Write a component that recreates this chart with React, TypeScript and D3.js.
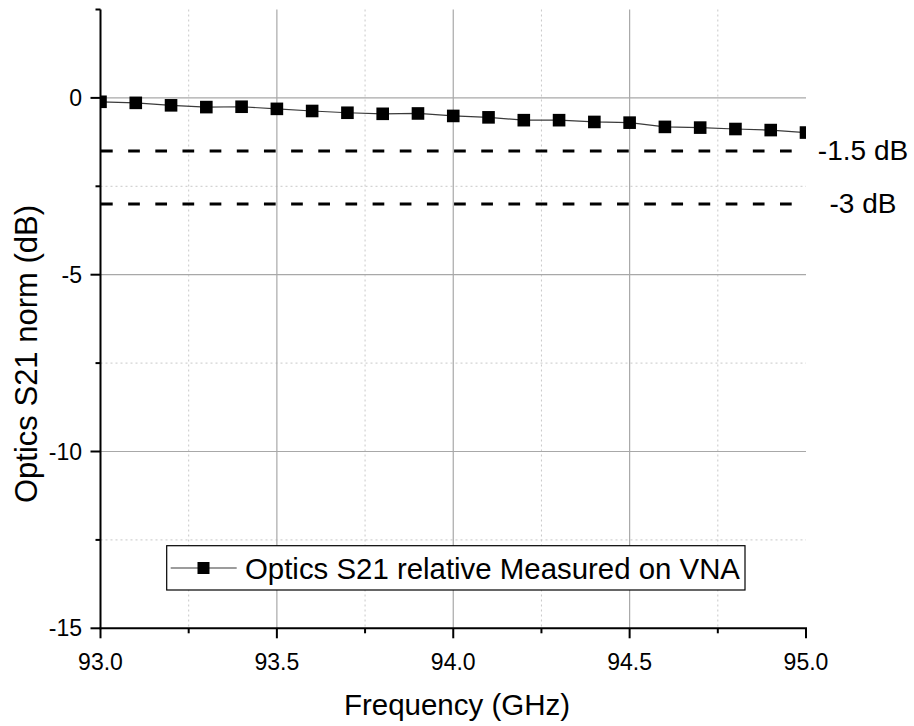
import React from "react";
import * as d3 from "d3";

const freqs = [93.0, 93.1, 93.2, 93.3, 93.4, 93.5, 93.6, 93.7, 93.8, 93.9, 94.0, 94.1, 94.2, 94.3, 94.4, 94.5, 94.6, 94.7, 94.8, 94.9, 95.0];
const s21 = [-0.11, -0.14, -0.21, -0.26, -0.25, -0.31, -0.37, -0.42, -0.45, -0.44, -0.51, -0.55, -0.63, -0.63, -0.68, -0.7, -0.82, -0.84, -0.88, -0.91, -0.98];
const refLevels = [-1.5, -3];
const refLabels = ["-1.5 dB", "-3 dB"];
const xMajor = [93.0, 93.5, 94.0, 94.5, 95.0];
const xMinor = [93.25, 93.75, 94.25, 94.75];
const yMajor = [0, -5, -10, -15];
const yMinor = [2.5, -2.5, -7.5, -12.5];
const legendLabel = "Optics S21 relative Measured on VNA";
const xTitle = "Frequency (GHz)";
const yTitle = "Optics S21 norm (dB)";

const FONT = "'Liberation Sans', Arial, sans-serif";

export default function App() {
  const x = d3.scaleLinear().domain([93, 95]).range([100.5, 806]);
  const y = d3.scaleLinear().domain([-15, 2.5]).range([628.3, 9.5]);
  const [x0, x1] = x.range();
  const [yb, yt] = y.range();
  const line = d3.line<number>().x((_, i) => x(freqs[i])).y((d) => y(d));
  const ms = 12.6;

  return (
    <svg width={914} height={726} style={{ position: "absolute", left: 0, top: 0, display: "block", background: "#fff" }} fontFamily={FONT}>
      <defs>
        <clipPath id="plot">
          <rect x={x0} y={yt} width={x1 - x0} height={yb - yt} />
        </clipPath>
      </defs>
      <rect width={914} height={726} fill="#fff" />
      {/* minor grid */}
      {xMinor.map((v) => (
        <line key={"xm" + v} x1={x(v)} x2={x(v)} y1={yt} y2={yb} stroke="#c8c8c8" strokeWidth={1} strokeDasharray="2 3" />
      ))}
      {yMinor.filter((v) => v < 2.5).map((v) => (
        <line key={"ym" + v} x1={x0} x2={x1} y1={y(v)} y2={y(v)} stroke="#c8c8c8" strokeWidth={1} strokeDasharray="2 3" />
      ))}
      {/* major grid */}
      {xMajor.slice(1, -1).map((v) => (
        <line key={"xg" + v} x1={x(v)} x2={x(v)} y1={yt} y2={yb} stroke="#a8a8a8" strokeWidth={1.2} />
      ))}
      {yMajor.slice(0, -1).map((v) => (
        <line key={"yg" + v} x1={x0} x2={x1} y1={y(v)} y2={y(v)} stroke="#a8a8a8" strokeWidth={1.2} />
      ))}
      {/* reference dashed lines */}
      {refLevels.map((v) => (
        <line key={"ref" + v} x1={101} x2={792} y1={y(v)} y2={y(v)} stroke="#000" strokeWidth={3} strokeDasharray="11.7 15.46" />
      ))}
      {refLevels.map((v, i) => (
        <text key={"rl" + v} x={863} y={y(v) + 9.5} textAnchor="middle" fontSize={28} fill="#000">
          {refLabels[i]}
        </text>
      ))}
      {/* data */}
      <g clipPath="url(#plot)">
        <path d={line(s21) || ""} fill="none" stroke="#3a3a3a" strokeWidth={1.2} />
        {s21.map((v, i) => (
          <rect key={"m" + i} x={x(freqs[i]) - ms / 2} y={y(v) - ms / 2} width={ms} height={ms} fill="#000" />
        ))}
      </g>
      {/* legend */}
      <g>
        <rect x={166.7} y={545.7} width={578.3} height={44.3} fill="#fff" stroke="#000" strokeWidth={1.2} />
        <line x1={170.7} x2={236.7} y1={568} y2={568} stroke="#3a3a3a" strokeWidth={1.2} />
        <rect x={203.5 - 6} y={568 - 6} width={12} height={12} fill="#000" />
        <text x={245} y={578.5} fontSize={29.4} fill="#000">{legendLabel}</text>
      </g>
      {/* axes */}
      <line x1={x0} x2={x0} y1={yt} y2={yb + 1} stroke="#000" strokeWidth={2} />
      <line x1={x0 - 1} x2={x1 + 1} y1={yb} y2={yb} stroke="#000" strokeWidth={2} />
      {xMajor.map((v) => (
        <g key={"xt" + v}>
          <line x1={x(v)} x2={x(v)} y1={yb} y2={yb + 10} stroke="#000" strokeWidth={2} />
          <text x={x(v)} y={670} textAnchor="middle" fontSize={23} fill="#000">{v.toFixed(1)}</text>
        </g>
      ))}
      {xMinor.map((v) => (
        <line key={"xmt" + v} x1={x(v)} x2={x(v)} y1={yb} y2={yb + 5} stroke="#000" strokeWidth={2} />
      ))}
      {yMajor.map((v) => (
        <g key={"yt" + v}>
          <line x1={x0} x2={x0 - 10} y1={y(v)} y2={y(v)} stroke="#000" strokeWidth={2} />
          <text x={82} y={y(v) + 8} textAnchor="end" fontSize={23} fill="#000">{String(v)}</text>
        </g>
      ))}
      {yMinor.map((v) => (
        <line key={"ymt" + v} x1={x0} x2={x0 - 5} y1={y(v)} y2={y(v)} stroke="#000" strokeWidth={2} />
      ))}
      {/* titles */}
      <text x={457} y={715} textAnchor="middle" fontSize={29.5} fill="#000">{xTitle}</text>
      <text transform={`translate(37,354) rotate(-90)`} textAnchor="middle" fontSize={31} fill="#000">{yTitle}</text>
    </svg>
  );
}
